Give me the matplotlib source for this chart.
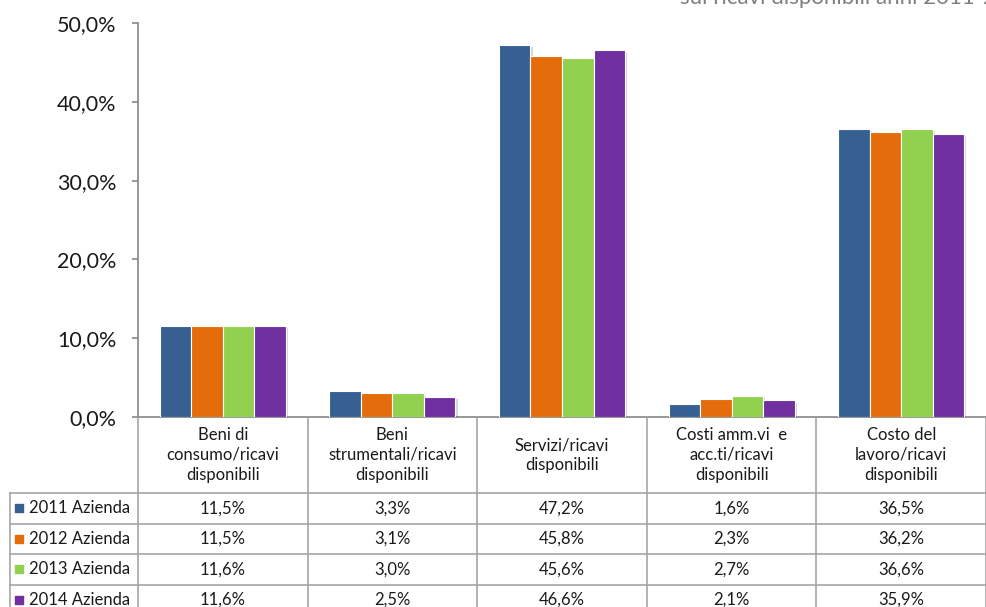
import matplotlib.pyplot as plt
import matplotlib.patheffects as pe
import numpy as np

plt.rcParams['font.family'] = ['Lato', 'DejaVu Sans']

categories = ['Beni di\nconsumo/ricavi\ndisponibili',
              'Beni\nstrumentali/ricavi\ndisponibili',
              'Servizi/ricavi\ndisponibili',
              'Costi amm.vi  e\nacc.ti/ricavi\ndisponibili',
              'Costo del\nlavoro/ricavi\ndisponibili']
series_names = ['2011 Azienda', '2012 Azienda', '2013 Azienda', '2014 Azienda']
v2011 = [11.5, 3.3, 47.2, 1.6, 36.5]
v2012 = [11.5, 3.1, 45.8, 2.3, 36.2]
v2013 = [11.6, 3.0, 45.6, 2.7, 36.6]
v2014 = [11.6, 2.5, 46.6, 2.1, 35.9]
values = [v2011, v2012, v2013, v2014]
colors = ['#376092', '#E46C0A', '#92D050', '#7030A0']
yticks = [0, 10, 20, 30, 40, 50]

W, H = 986, 607
fig = plt.figure(figsize=(W / 100, H / 100), dpi=100)

# assi del grafico (in pixel -> frazioni)
left_px, axis_px, top_px = 138, 417, 23
ax = fig.add_axes([left_px / W, (H - axis_px) / H, (W - left_px) / W, (axis_px - top_px) / H])

x = np.arange(len(categories))
bw = 0.186
shadow = [pe.SimplePatchShadow(offset=(1.5, -1.5), alpha=0.18), pe.Normal()]
for i, (vals, c) in enumerate(zip(values, colors)):
    bars = ax.bar(x + (i - 1.5) * bw, vals, bw, color=c, edgecolor='white', linewidth=0.8, zorder=3)
    for b in bars:
        b.set_path_effects(shadow)

ax.set_xlim(-0.5, len(categories) - 0.5)
ax.set_ylim(0, 50)
ax.set_yticks(yticks)
ax.set_yticklabels([f'{t:.1f}%'.replace('.', ',') for t in yticks], fontsize=15.5, color='#1a1a1a')
ax.set_xticks([])
for s in ['top', 'right']:
    ax.spines[s].set_visible(False)
for s in ['left', 'bottom']:
    ax.spines[s].set_color('#868686')
    ax.spines[s].set_linewidth(1.2)
ax.tick_params(axis='y', length=4.5, width=1.2, color='#868686', pad=11)

# tabella dati sotto il grafico
unit = (W - left_px) / len(categories)
tax = fig.add_axes([0, 0, 1, (H - axis_px) / H])
tax.set_xlim(-0.5 - left_px / unit, len(categories) - 0.5)
tax.set_ylim(H - axis_px, 0)
tax.axis('off')

line_c = '#A6A6A6'
header_h = 76
row_h = 30.5
tab_left = -0.5 - (left_px - 10) / unit
n_rows = len(series_names)
txt_c = '#1a1a1a'

for k in range(len(categories) + 1):
    tax.plot([k - 0.5, k - 0.5], [0, H - axis_px], color=line_c, lw=1.2)
tax.plot([tab_left, tab_left], [header_h, H - axis_px], color=line_c, lw=1.2)
for r in range(n_rows + 1):
    y = header_h + r * row_h
    tax.plot([tab_left, len(categories) - 0.5], [y, y], color=line_c, lw=1.2)

for k, cat in enumerate(categories):
    tax.text(k, header_h / 2, cat, ha='center', va='center', fontsize=12,
             linespacing=1.3, color=txt_c)

for r, (name, vals, c) in enumerate(zip(series_names, values, colors)):
    yc = header_h + (r + 0.5) * row_h
    tax.scatter([tab_left + 9 / unit], [yc], marker='s', s=34, color=c, zorder=3)
    tax.text(tab_left + 19 / unit, yc, name, ha='left', va='center', fontsize=12, color=txt_c)
    for k, v in enumerate(vals):
        tax.text(k, yc, f'{v:.1f}%'.replace('.', ','), ha='center', va='center',
                 fontsize=12, color=txt_c)

# titolo tagliato in alto a destra
fig.text(680 / W, (H - 4) / H, 'sui ricavi disponibili anni 2011-2014', ha='left',
         va='baseline', fontsize=16, color='#7f7f7f')

fig.savefig('out.png', dpi=100)
